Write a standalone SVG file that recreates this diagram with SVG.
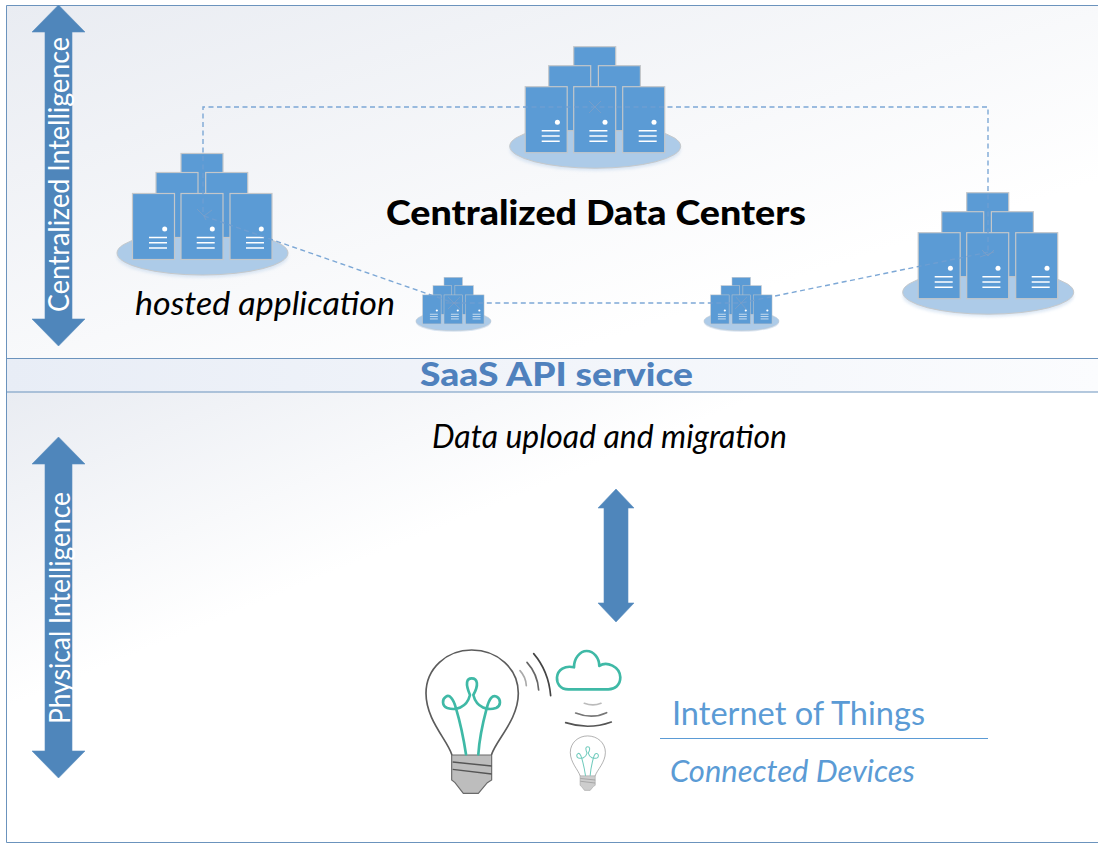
<svg xmlns="http://www.w3.org/2000/svg" width="1098" height="843" viewBox="0 0 1098 843">
<style>
text{font-family:"Lato","Gill Sans","Liberation Sans",sans-serif}
.srv{fill:#5b9bd5;stroke:#c4c7ca;stroke-width:1.2}
.bar{stroke:#fff;stroke-width:1.5;fill:none}
.plate{fill:#adcbe8;stroke:#c6c9cb;stroke-width:1}
.conn{fill:none;stroke:#6f9fd2;stroke-width:1.4;stroke-dasharray:5 3.500;opacity:.9}
.tip{fill:none;stroke:#7f9fc6;stroke-width:1;opacity:.75}
.teal{fill:none;stroke:#3fb9a6;stroke-width:8;stroke-linecap:round;stroke-linejoin:round}
.dark{fill:none;stroke:#5c5c5c;stroke-width:5;stroke-linecap:round}
.arrow{fill:#4f86bb;stroke:#5b8fc0;stroke-width:.6}
.frame{stroke:#6b93bd;stroke-width:1}
.it{font-style:italic;fill:#000}
</style>
<defs>
<linearGradient id="gt" x1="0" y1="0" x2="1" y2="1"><stop offset="0" stop-color="#e9ecf2"/><stop offset=".75" stop-color="#fff"/></linearGradient>
<linearGradient id="gm" x1="0" y1="0" x2="1" y2="0"><stop offset="0" stop-color="#e8edf6"/><stop offset="1" stop-color="#fbfcfe"/></linearGradient>
<linearGradient id="gb" x1="0" y1="0" x2="1" y2="1"><stop offset="0" stop-color="#e9ecf2"/><stop offset=".35" stop-color="#fff"/></linearGradient>
<filter id="sh" x="-10%" y="-10%" width="120%" height="130%"><feGaussianBlur stdDeviation="1.500"/></filter>
<g id="cluster">
<ellipse cx="21.500" cy="103" rx="85.500" ry="21" fill="#c6d9ee" opacity=".6" filter="url(#sh)"/>
<ellipse class="plate" cx="21.500" cy="99.500" rx="85.500" ry="22"/>
<rect class="srv" x="0" y="0" width="42" height="84"/>
<rect class="srv" x="-25" y="19" width="42" height="65"/>
<rect class="srv" x="24.700" y="19" width="42" height="65"/>
<rect class="srv" x="-48.500" y="40" width="42" height="66"/>
<rect class="srv" x="0" y="40" width="42" height="66"/>
<rect class="srv" x="49" y="40" width="42" height="66"/>
<circle cx="-16.300" cy="75.500" r="2.500" fill="#fff"/>
<circle cx="31.300" cy="75.500" r="2.500" fill="#fff"/>
<circle cx="80.300" cy="75.500" r="2.500" fill="#fff"/>
<path class="bar" d="M-32 84h18M-32 89.200h18M-32 94.600h18M15.700 84h18M15.700 89.200h18M15.700 94.600h18M65 84h18M65 89.200h18M65 94.600h18"/>
</g>
<g id="bulb">
<path d="M125 345H245V420L232 428L205 460H160L135 428L125 420Z" fill="#bdbdbd" stroke="#6a6a6a" stroke-width="3.500"/>
<path d="M128 366L245 378M128 388L245 402" stroke="#555" stroke-width="4" fill="none"/>
<path class="dark" d="M125 343C112 300 48 240 48 160C48 85 110 30 185 30C262 30 325 85 325 160C325 240 258 300 245 343"/>
<path class="teal" d="M168 343C160 290 150 245 138 205C130 175 118 163 108 170C95 178 96 198 112 204C135 212 170 205 180 165C165 130 170 115 185 115C203 115 207 135 190 165C200 205 235 212 258 204C273 198 274 178 260 170C248 163 238 175 230 205C218 250 208 295 205 343"/>
</g>
</defs>
<g id="panels">
<rect x="6" y="5" width="1092" height="353" fill="url(#gt)"/>
<rect x="6" y="358" width="1092" height="34" fill="url(#gm)"/>
<rect x="6" y="392" width="1092" height="451" fill="url(#gb)"/>
<path class="frame" d="M1098 5.500H6.500V842.500H1098M6 358.500H1098M6 392H1098" fill="none"/>
</g>
<g id="arrow-centralized"><path class="arrow" d="M58.500 5L85 32H72V319H85L58.500 346L32 319H45V32H32Z"/>
<text transform="translate(69,312) rotate(-90)" font-size="29" fill="#fff" textLength="275" lengthAdjust="spacingAndGlyphs">Centralized Intelligence</text></g>
<g id="arrow-physical"><path class="arrow" d="M58.500 437L85 464H72V751H85L58.500 778L32 751H45V464H32Z"/>
<text transform="translate(70,724) rotate(-90)" font-size="28" fill="#fff" textLength="232" lengthAdjust="spacingAndGlyphs">Physical Intelligence</text></g>
<g id="arrow-upload"><path class="arrow" d="M616 489L634 508H628V603H634L616 622L598 603H604V508H598Z"/></g>
<g id="dc-left"><use href="#cluster" x="181" y="153.500"/></g>
<g id="dc-top"><use href="#cluster" x="573.700" y="46.700"/></g>
<g id="dc-right"><use href="#cluster" x="966.700" y="192.700"/></g>
<g id="edge-left"><use href="#cluster" transform="translate(444,277.300) scale(.44)"/></g>
<g id="edge-right"><use href="#cluster" transform="translate(732,277.300) scale(.44)"/></g>
<g id="connectors">
<path class="conn" d="M203 212V107H988V256"/>
<path class="conn" d="M204 216L454 303H741L989 252"/>
<path class="tip" d="M197 209L204 216L212 210M204 216L206 220"/>
<path class="tip" d="M589 101L601 113M601 101L589 113"/>
<path class="tip" d="M448 297L460 309M460 297L448 309M446 303H460"/>
<path class="tip" d="M736 297L746 309M747 297L735 309"/>
<path class="tip" d="M982 250L988 256L994 250M980 257L994 252"/>
</g>
<g id="labels">
<text x="386" y="225" font-size="34" font-weight="900" fill="#000" textLength="420" lengthAdjust="spacingAndGlyphs">Centralized Data Centers</text>
<text class="it" x="135" y="315" font-size="32" textLength="260" lengthAdjust="spacingAndGlyphs">hosted application</text>
<text x="420" y="386" font-size="32" font-weight="900" fill="#4f81bd" textLength="273" lengthAdjust="spacingAndGlyphs">SaaS API service</text>
<text class="it" x="432" y="448" font-size="32" textLength="355" lengthAdjust="spacingAndGlyphs">Data upload and migration</text>
<text x="672" y="725" font-size="33" fill="#5b9bd5" textLength="253" lengthAdjust="spacingAndGlyphs">Internet of Things</text>
<path d="M660 738.500H988" stroke="#5b9bd5" stroke-width="1"/>
<text x="670" y="782" font-size="31" font-style="italic" fill="#5b9bd5" textLength="245" lengthAdjust="spacingAndGlyphs">Connected Devices</text>
</g>
<g id="iot" transform="translate(410,640) scale(.3333)">
<use href="#bulb"/>
<use href="#bulb" transform="translate(462.700,276.400) scale(.38)" opacity=".75"/>
<path class="dark" d="M330 92C342 105 348 120 349 137" style="stroke:#aaa"/>
<path class="dark" d="M351 67C372 90 384 120 386 150" style="stroke:#666"/>
<path class="dark" d="M371 41C400 75 418 120 422 167" style="stroke:#444"/>
<path class="dark" d="M523 190C540 196 558 196 573 190" style="stroke:#bbb"/>
<path class="dark" d="M497 219C530 232 560 232 590 218" style="stroke:#777"/>
<path class="dark" d="M467 248C510 262 560 262 604 246" style="stroke:#555"/>
<path class="teal" d="M475 148C450 148 440 130 441 112C443 90 465 75 492 82C492 55 510 33 530 33C552 33 568 55 568 78C590 62 630 80 631 112C631 135 615 148 595 148Z"/>
</g>
</svg>
